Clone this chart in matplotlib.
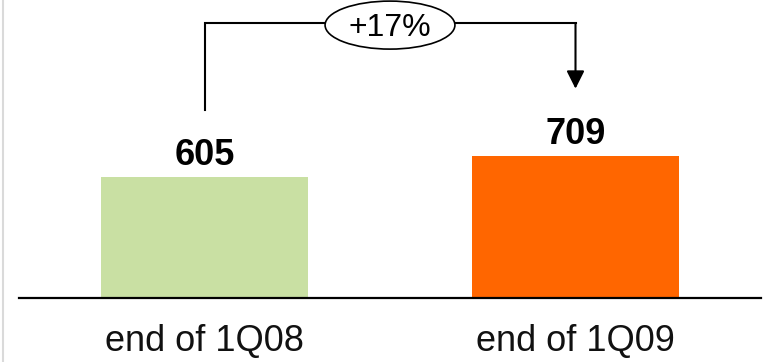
import matplotlib
matplotlib.use("Agg")
import matplotlib.pyplot as plt
from matplotlib.patches import Ellipse
from matplotlib.lines import Line2D

plt.rcParams['font.family'] = ['Liberation Sans', 'DejaVu Sans']

# Data
categories = ["end of 1Q08", "end of 1Q09"]
values = [605, 709]
bar_colors = ["#C9E0A3", "#FF6600"]

growth = values[1] / values[0] - 1
growth_label = f"+{growth * 100:.0f}%"

W, H = 769, 362
fig = plt.figure(figsize=(W / 100, H / 100), dpi=100)

# Axes: baseline at y=297.5 px, spanning x=19..761 px
base_px = 297.5
ax = fig.add_axes([19 / W, (H - base_px) / H, 742 / W, base_px / H])
ax.set_xlim(-0.5, 1.5)
ax.set_ylim(0, base_px / 0.2)

x = list(range(len(categories)))
ax.bar(x, values, width=0.56, color=bar_colors, zorder=2)

# Value labels above bars
for xi, v in zip(x, values):
    ax.annotate(f"{v}", xy=(xi, v), xytext=(0, 8.6), textcoords="offset points",
                ha="center", va="baseline", fontsize=26, fontweight="bold",
                color="black")

# Axis styling
for s in ["top", "right", "left"]:
    ax.spines[s].set_visible(False)
ax.spines["bottom"].set_linewidth(1.6)
ax.spines["bottom"].set_color("black")
ax.set_yticks([])
ax.set_xticks(x)
ax.set_xticklabels(categories, fontsize=26, color="#111111")
ax.tick_params(axis="x", length=0, pad=19)

# Growth bracket from first bar to second
gap = 335
top = 1372
ax.plot([x[0], x[0], x[1], x[1]], [values[0] + gap, top, top, top],
        color="black", lw=1.5, clip_on=False, zorder=3, solid_joinstyle="miter")
ax.annotate("", xy=(x[1], values[1] + gap), xytext=(x[1], top),
            arrowprops=dict(arrowstyle="-|>,head_length=0.4,head_width=0.2",
                            mutation_scale=27, lw=1.5, color="black",
                            shrinkA=0, shrinkB=0),
            annotation_clip=False, zorder=3)

cx = (x[0] + x[1]) / 2
ell = Ellipse((cx, 1362), width=0.35, height=240, facecolor="white",
              edgecolor="black", lw=1.2, zorder=4, clip_on=False)
ax.add_patch(ell)
ax.text(cx, 1345, growth_label, ha="center", va="center", fontsize=23,
        color="black", zorder=5)

# Light frame line on the left edge
fig.add_artist(Line2D([2.5 / W, 2.5 / W], [0, 1], color="#DADADA", lw=1.5,
                      transform=fig.transFigure))

fig.savefig("out.png", dpi=100, facecolor="white")
